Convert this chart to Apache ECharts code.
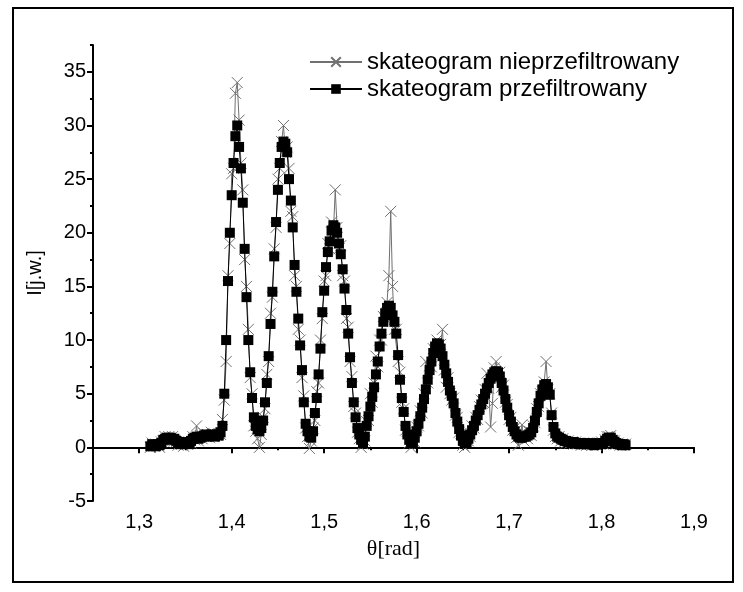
<!DOCTYPE html>
<html>
<head>
<meta charset="utf-8">
<script src="https://cdn.jsdelivr.net/npm/echarts@6/dist/echarts.min.js"></script>
<style>
html,body{margin:0;padding:0;background:#fff;}
#chart{width:743px;height:592px;}
</style>
</head>
<body>
<div id="chart"></div>
<script>
// θ [rad] sample positions
const theta = [
1.312,1.314,1.316,1.318,1.320,1.322,1.324,1.326,1.328,1.330,
1.332,1.334,1.336,1.338,1.340,1.342,1.344,1.346,1.348,1.350,
1.352,1.354,1.356,1.358,1.360,1.362,1.364,1.366,1.368,1.370,
1.372,1.374,1.376,1.378,1.380,1.382,1.384,1.386,1.388,1.390,
1.392,1.394,1.396,1.398,1.400,1.402,1.404,1.406,1.408,1.410,
1.412,1.414,1.416,1.418,1.420,1.422,1.424,1.426,1.428,1.430,
1.432,1.434,1.436,1.438,1.440,1.442,1.444,1.446,1.448,1.450,
1.452,1.454,1.456,1.458,1.460,1.462,1.464,1.466,1.468,1.470,
1.472,1.474,1.476,1.478,1.480,1.482,1.484,1.486,1.488,1.490,
1.492,1.494,1.496,1.498,1.500,1.502,1.504,1.506,1.508,1.510,
1.512,1.514,1.516,1.518,1.520,1.522,1.524,1.526,1.528,1.530,
1.532,1.534,1.536,1.538,1.540,1.542,1.544,1.546,1.548,1.550,
1.552,1.554,1.556,1.558,1.560,1.562,1.564,1.566,1.568,1.570,
1.572,1.574,1.576,1.578,1.580,1.582,1.584,1.586,1.588,1.590,
1.592,1.594,1.596,1.598,1.600,1.602,1.604,1.606,1.608,1.610,
1.612,1.614,1.616,1.618,1.620,1.622,1.624,1.626,1.628,1.630,
1.632,1.634,1.636,1.638,1.640,1.642,1.644,1.646,1.648,1.650,
1.652,1.654,1.656,1.658,1.660,1.662,1.664,1.666,1.668,1.670,
1.672,1.674,1.676,1.678,1.680,1.682,1.684,1.686,1.688,1.690,
1.692,1.694,1.696,1.698,1.700,1.702,1.704,1.706,1.708,1.710,
1.712,1.714,1.716,1.718,1.720,1.722,1.724,1.726,1.728,1.730,
1.732,1.734,1.736,1.738,1.740,1.742,1.744,1.746,1.748,1.750,
1.752,1.754,1.756,1.758,1.760,1.762,1.764,1.766,1.768,1.770,
1.772,1.774,1.776,1.778,1.780,1.782,1.784,1.786,1.788,1.790,
1.792,1.794,1.796,1.798,1.800,1.802,1.804,1.806,1.808,1.810,
1.812,1.814,1.816,1.818,1.820,1.822,1.824,1.826
];
// skateogram nieprzefiltrowany (raw)
const rawValues = [
0.0,0.4,0.1,0.3,0.2,0.0,0.5,0.6,1.0,0.8,
1.0,0.7,1.0,0.6,0.5,0.2,0.4,0.3,0.1,0.6,
0.3,0.5,0.4,1.0,0.7,2.0,0.6,1.1,0.8,1.3,
1.0,1.2,0.9,1.4,1.0,1.2,1.1,1.3,1.2,2.6,
4.4,8.0,16.0,19.0,25.5,26.0,33.0,34.0,30.5,26.5,
24.0,17.5,15.0,11.0,6.5,5.0,2.0,1.5,0.8,0.0,
1.2,2.8,3.6,6.8,8.0,12.5,14.0,18.5,20.5,25.0,
26.0,28.5,30.0,27.5,28.0,26.0,22.0,21.5,16.0,15.0,
11.0,10.0,6.5,4.8,1.8,1.0,-0.1,0.6,1.8,2.5,
5.2,6.0,10.0,12.0,15.5,16.0,19.0,18.5,21.0,20.0,
24.0,20.5,18.5,18.8,16.0,15.5,12.0,11.2,8.0,6.6,
3.8,3.2,1.4,0.8,0.0,0.3,0.6,2.4,2.5,5.0,
4.2,6.0,8.5,7.5,10.0,10.0,12.2,12.0,13.5,16.0,
22.0,15.0,11.0,11.0,8.0,7.0,4.2,3.6,1.6,1.5,
0.4,0.0,0.6,0.5,1.9,2.0,3.4,3.2,5.0,8.0,
6.0,7.6,7.5,9.2,9.0,10.0,9.2,9.6,11.0,7.2,
5.6,6.5,5.0,4.4,4.6,3.0,2.8,1.4,1.3,0.2,
0.0,0.7,0.6,1.0,2.0,1.8,2.8,2.6,3.8,4.4,
4.2,5.4,6.9,5.5,1.9,4.1,7.4,8.0,6.6,7.0,
5.6,5.8,4.2,4.0,2.6,2.8,1.6,1.8,0.9,0.2,
1.2,2.1,0.6,1.2,0.8,1.5,1.1,2.0,2.3,3.6,
3.8,5.0,5.2,6.1,8.0,5.4,5.0,3.2,1.6,1.0,
0.8,1.0,0.6,0.8,0.5,0.4,0.6,0.4,0.5,0.3,
0.5,0.3,0.4,0.2,0.4,0.3,0.2,0.4,0.3,0.2,
0.3,0.2,0.4,0.3,0.5,0.3,0.7,1.0,1.0,1.1,
0.6,0.6,0.3,0.4,0.2,0.3,0.2,0.3
];
// skateogram przefiltrowany (filtered)
const filteredValues = [
0.1,0.3,0.2,0.1,0.3,0.2,0.4,0.7,0.8,0.9,
0.8,0.9,0.7,0.8,0.6,0.4,0.3,0.4,0.3,0.5,
0.4,0.3,0.6,0.8,0.9,1.0,0.8,0.9,1.0,1.1,
1.2,1.0,1.1,1.2,1.1,1.0,1.2,1.1,1.4,2.0,
5.0,10.0,15.5,20.0,23.5,26.5,29.0,30.0,28.0,26.0,
22.8,18.5,14.0,10.0,7.0,4.6,2.8,2.0,1.7,1.5,
1.8,2.5,4.2,6.0,8.5,11.5,14.5,17.8,21.0,24.0,
26.5,28.0,28.5,28.3,27.5,25.0,23.0,20.5,17.0,14.5,
12.0,9.5,7.2,4.2,2.2,1.5,1.0,0.9,1.5,3.2,
4.6,6.8,9.2,12.6,14.6,16.8,18.2,19.2,20.2,20.7,
20.5,20.0,19.0,18.0,16.6,14.8,12.8,10.6,8.4,6.0,
4.2,2.8,1.8,1.2,0.7,0.4,1.0,2.0,2.9,3.8,
4.7,5.6,6.8,8.0,9.4,10.6,11.7,12.5,13.0,13.2,
13.0,12.3,11.7,10.6,8.6,6.3,4.6,3.3,2.0,1.2,
0.7,0.4,0.4,0.9,1.5,2.2,2.9,3.7,4.5,5.4,
6.3,7.2,8.0,8.8,9.4,9.7,9.6,9.2,8.5,7.7,
6.9,6.1,5.3,4.8,4.1,3.2,2.4,1.7,1.1,0.6,
0.4,0.5,0.8,1.2,1.6,2.0,2.5,3.0,3.5,4.0,
4.5,5.0,5.5,6.0,6.4,6.8,7.0,7.1,7.0,6.6,
6.0,5.3,4.5,3.7,3.0,2.4,1.9,1.5,1.2,1.0,
0.9,0.9,1.0,1.0,1.1,1.2,1.4,1.8,2.5,3.3,
4.1,4.8,5.4,5.8,5.9,5.6,4.9,3.0,1.9,1.3,
1.0,0.9,0.8,0.7,0.6,0.6,0.5,0.5,0.4,0.5,
0.4,0.4,0.3,0.4,0.3,0.4,0.3,0.3,0.4,0.3,
0.2,0.3,0.3,0.4,0.3,0.4,0.6,0.8,0.9,0.9,
0.7,0.5,0.4,0.3,0.3,0.2,0.3,0.2
];
const seriesNames = ['skateogram nieprzefiltrowany', 'skateogram przefiltrowany'];
const xMajorTicks = [1.3, 1.4, 1.5, 1.6, 1.7, 1.8, 1.9];
const xMinorTicks = [1.25, 1.35, 1.45, 1.55, 1.65, 1.75, 1.85];
const yMajorTicks = [-5, 0, 5, 10, 15, 20, 25, 30, 35];
const yMinorTicks = [-2.5, 2.5, 7.5, 12.5, 17.5, 22.5, 27.5, 32.5, 37.5];

const rawData = theta.map((t, i) => [t, rawValues[i]]);
const filteredData = theta.map((t, i) => [t, filteredValues[i]]);

const FONT = "'Liberation Sans', Arial, sans-serif";
const chart = echarts.init(document.getElementById('chart'), null, {renderer: 'canvas'});
const axisLineStyle = {color: '#000', width: 2};
chart.setOption({
  animation: false,
  backgroundColor: '#fff',
  grid: {left: 93, right: 49, top: 45, bottom: 91, containLabel: false},
  legend: {
    orient: 'vertical',
    left: 304,
    top: 45,
    itemWidth: 52,
    itemHeight: 12,
    itemGap: 3,
    textStyle: {fontFamily: FONT, fontSize: 24, color: '#000'},
    data: seriesNames
  },
  xAxis: [{
    type: 'value', min: 1.25, max: 1.9, position: 'bottom',
    name: 'θ[rad]', nameLocation: 'middle', nameGap: 37,
    nameTextStyle: {fontFamily: "'Liberation Serif', 'Times New Roman', serif", fontSize: 22, color: '#000'},
    axisLine: {lineStyle: axisLineStyle},
    axisTick: {length: 6, lineStyle: {color: '#000', width: 2}, customValues: xMajorTicks},
    axisLabel: {customValues: xMajorTicks, fontFamily: FONT, fontSize: 20, color: '#000', margin: 11,
      formatter: v => v.toFixed(1).replace('.', ',')},
    splitLine: {show: false}
  }, {
    type: 'value', min: 1.25, max: 1.9, position: 'bottom',
    axisLine: {show: false},
    axisTick: {length: 3, lineStyle: {color: '#000', width: 2}, customValues: xMinorTicks},
    axisLabel: {show: false},
    splitLine: {show: false}
  }],
  yAxis: [{
    type: 'value', min: -5, max: 37.5, position: 'left',
    name: 'I[j.w.]', nameLocation: 'middle', nameGap: 48, nameRotate: 90,
    nameTextStyle: {fontFamily: FONT, fontSize: 20, color: '#000'},
    axisLine: {lineStyle: axisLineStyle},
    axisTick: {length: 6, lineStyle: {color: '#000', width: 2}, customValues: yMajorTicks},
    axisLabel: {customValues: yMajorTicks, fontFamily: FONT, fontSize: 20, color: '#000', margin: 7},
    splitLine: {show: false}
  }, {
    type: 'value', min: -5, max: 37.5, position: 'left',
    axisLine: {show: false},
    axisTick: {length: 3, lineStyle: {color: '#000', width: 2}, customValues: yMinorTicks},
    axisLabel: {show: false},
    splitLine: {show: false}
  }],
  series: [{
    name: seriesNames[0], type: 'line', xAxisIndex: 0, yAxisIndex: 0,
    data: rawData,
    symbol: 'path://M0,0L10,10M10,0L0,10',
    symbolSize: 11,
    showAllSymbol: true,
    lineStyle: {color: '#707070', width: 1},
    itemStyle: {color: '#707070', borderColor: '#707070', borderWidth: 1},
    emphasis: {disabled: true},
    z: 2
  }, {
    name: seriesNames[1], type: 'line', xAxisIndex: 0, yAxisIndex: 0,
    data: filteredData,
    symbol: 'rect',
    symbolSize: 10,
    showAllSymbol: true,
    lineStyle: {color: '#000', width: 1},
    itemStyle: {color: '#000', borderWidth: 0},
    emphasis: {disabled: true},
    z: 3
  }],
  graphic: [{
    type: 'rect', silent: true,
    shape: {x: 13, y: 8, width: 720, height: 574},
    style: {fill: 'none', stroke: '#000', lineWidth: 2}
  }]
});
</script>
</body>
</html>
